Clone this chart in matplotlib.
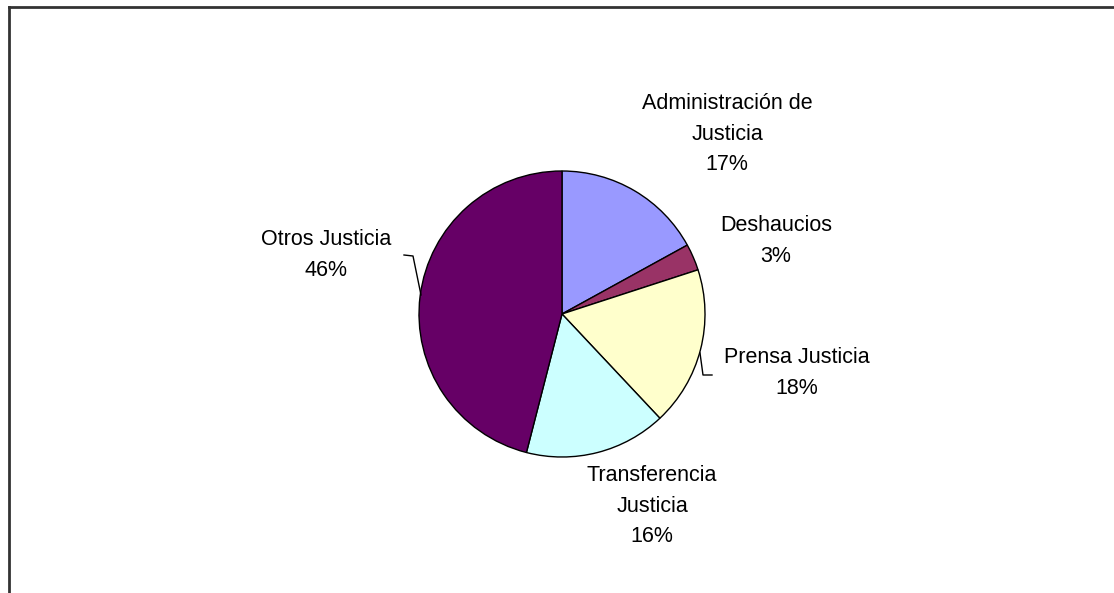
import matplotlib.pyplot as plt
from matplotlib.lines import Line2D

labels = ['Administración de\nJusticia', 'Deshaucios', 'Prensa Justicia',
          'Transferencia\nJusticia', 'Otros Justicia']
shares = [17, 3, 18, 16, 46]
colors = ['#9999FF', '#993366', '#FFFFCC', '#CCFFFF', '#660066']

W, H = 1114, 593


def main():
    plt.rcParams['font.family'] = ['Liberation Sans', 'DejaVu Sans']
    fig = plt.figure(figsize=(W / 100, H / 100), dpi=100)
    ax = fig.add_axes([0, 0, 1, 1])

    cx, cy, r = 562, H - 314, 143
    ax.pie(shares, colors=colors, startangle=90, counterclock=False,
           center=(cx, cy), radius=r, frame=True,
           wedgeprops=dict(edgecolor='black', linewidth=1))
    ax.set_xlim(0, W)
    ax.set_ylim(0, H)
    ax.set_aspect('equal')
    ax.axis('off')

    # label positions (pixel coords, y from top)
    pos = [(727, 134), (776, 241), (797, 373), (652, 506), (326, 255)]
    for lab, s, (x, y) in zip(labels, shares, pos):
        ax.text(x, H - y, f'{lab}\n{s}%', ha='center', va='center',
                fontsize=15.5, linespacing=1.62)

    # leader lines
    ax.plot([404, 413, 421], [H - 255, H - 256, H - 295], color='black', lw=1)
    ax.plot([700, 703, 712], [H - 353, H - 375, H - 375], color='black', lw=1)

    # partial frame
    fig.add_artist(Line2D([8.5 / W, 8.5 / W], [0, 1 - 6.5 / H],
                          transform=fig.transFigure, color='#333333', lw=2))
    fig.add_artist(Line2D([8.5 / W, 1], [1 - 6.5 / H, 1 - 6.5 / H],
                          transform=fig.transFigure, color='#333333', lw=2))

    plt.savefig('out.png', dpi=100)


if __name__ == "__main__":
    main()
